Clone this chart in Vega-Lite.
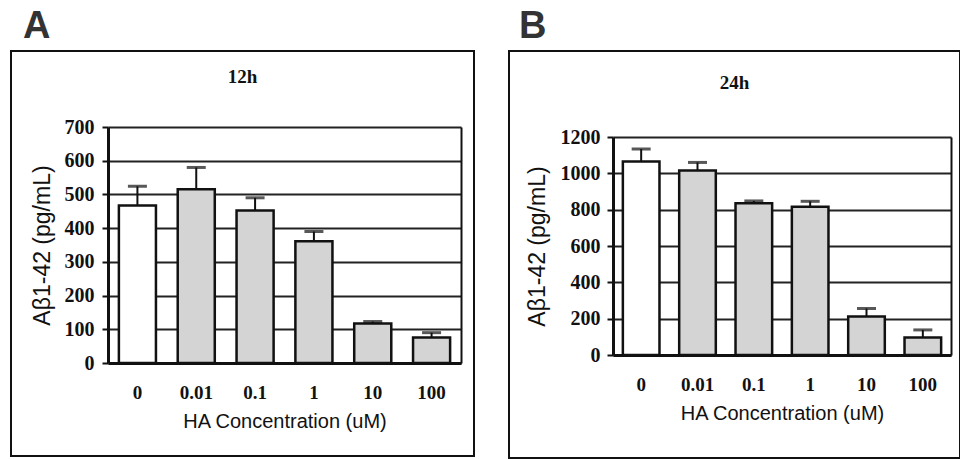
{
  "$schema": "https://vega.github.io/schema/vega-lite/v6.json",
  "padding": {"left": 10, "top": 8, "right": 0, "bottom": 0},
  "background": "white",
  "spacing": 33,
  "config": {
    "view": {"stroke": "#111", "strokeWidth": 2},
    "axis": {
      "domainColor": "#111",
      "tickColor": "#111",
      "gridColor": "#222",
      "labelColor": "#111",
      "titleColor": "#111",
      "labelFont": "Liberation Serif",
      "labelFontWeight": "bold",
      "labelFontSize": 19,
      "titleFont": "Liberation Sans",
      "titleFontWeight": "normal"
    }
  },
  "hconcat": [
    {
      "title": {"text": "A", "anchor": "start", "dx": 13, "offset": 4, "fontSize": 38, "font": "Liberation Sans", "fontWeight": "bold", "color": "#333"},
      "hconcat": [
        {
          "width": 463,
          "height": 405,
          "title": {"text": "12h", "anchor": "middle", "offset": -36, "font": "Liberation Serif", "fontWeight": "bold", "fontSize": 19, "color": "#111"},
          "data": {"values": [
            {"conc": "0", "mean": 467, "upper": 524},
            {"conc": "0.01", "mean": 515, "upper": 580},
            {"conc": "0.1", "mean": 452, "upper": 490},
            {"conc": "1", "mean": 361, "upper": 390},
            {"conc": "10", "mean": 117, "upper": 123},
            {"conc": "100", "mean": 76, "upper": 90}
          ]},
          "encoding": {
            "x": {
              "field": "conc", "type": "nominal",
              "sort": ["0", "0.01", "0.1", "1", "10", "100"],
              "scale": {"range": [97, 450], "paddingInner": 0.37, "paddingOuter": 0.185},
              "axis": {"orient": "bottom", "offset": -93, "labelAngle": 0, "ticks": false, "domainWidth": 3, "labelPadding": 20, "grid": false, "title": "HA Concentration (uM)", "titleFontSize": 20, "titlePadding": 9}
            }
          },
          "layer": [
            {
              "mark": {"type": "rule", "strokeWidth": 2, "color": "#111"},
              "encoding": {
                "y": {"field": "mean", "type": "quantitative", "scale": {"domain": [0, 700], "range": [312, 76], "nice": false, "zero": true}, "axis": null},
                "y2": {"field": "upper"}
              }
            },
            {
              "mark": {"type": "bar", "stroke": "#111", "strokeWidth": 2.5},
              "encoding": {
                "y": {"field": "mean", "type": "quantitative", "axis": {"orient": "left", "offset": -97, "values": [0, 100, 200, 300, 400, 500, 600, 700], "format": "d", "grid": true, "gridWidth": 2, "domainWidth": 3, "tickSize": 6, "tickWidth": 2, "labelPadding": 8, "labelFontSize": 20, "title": "Aβ1-42 (pg/mL)", "titleFontSize": 23, "titlePadding": 10}},
                "fill": {"condition": {"test": "datum.conc === '0'", "value": "white"}, "value": "#d4d4d4"}
              }
            },
            {
              "mark": {"type": "tick", "orient": "horizontal", "size": 19, "thickness": 3, "color": "#111"},
              "encoding": {
                "y": {"field": "upper", "type": "quantitative", "axis": {"orient": "right", "offset": -13, "labels": false, "ticks": false, "grid": false, "title": null, "domainWidth": 2}}
              }
            }
          ],
          "resolve": {"axis": {"y": "independent"}}
        }
      ]
    },
    {
      "title": {"text": "B", "anchor": "start", "dx": 11, "offset": 4, "fontSize": 38, "font": "Liberation Sans", "fontWeight": "bold", "color": "#333"},
      "hconcat": [
        {
          "width": 451,
          "height": 407,
          "title": {"text": "24h", "anchor": "middle", "offset": -42, "font": "Liberation Serif", "fontWeight": "bold", "fontSize": 19, "color": "#111"},
          "data": {"values": [
            {"conc": "0", "mean": 1065, "upper": 1134},
            {"conc": "0.01", "mean": 1015, "upper": 1060},
            {"conc": "0.1", "mean": 836, "upper": 848},
            {"conc": "1", "mean": 816, "upper": 846},
            {"conc": "10", "mean": 212, "upper": 256},
            {"conc": "100", "mean": 96, "upper": 138}
          ]},
          "encoding": {
            "x": {
              "field": "conc", "type": "nominal",
              "sort": ["0", "0.01", "0.1", "1", "10", "100"],
              "scale": {"range": [104, 442], "paddingInner": 0.35, "paddingOuter": 0.175},
              "axis": {"orient": "bottom", "offset": -103, "labelAngle": 0, "ticks": false, "domainWidth": 3, "labelPadding": 20, "grid": false, "title": "HA Concentration (uM)", "titleFontSize": 20, "titlePadding": 9}
            }
          },
          "layer": [
            {
              "mark": {"type": "rule", "strokeWidth": 2, "color": "#111"},
              "encoding": {
                "y": {"field": "mean", "type": "quantitative", "scale": {"domain": [0, 1200], "range": [304, 86], "nice": false, "zero": true}, "axis": null},
                "y2": {"field": "upper"}
              }
            },
            {
              "mark": {"type": "bar", "stroke": "#111", "strokeWidth": 2.5},
              "encoding": {
                "y": {"field": "mean", "type": "quantitative", "axis": {"orient": "left", "offset": -104, "values": [0, 200, 400, 600, 800, 1000, 1200], "format": "d", "grid": true, "gridWidth": 2, "domainWidth": 3, "tickSize": 6, "tickWidth": 2, "labelPadding": 7, "labelFontSize": 20, "title": "Aβ1-42 (pg/mL)", "titleFontSize": 23, "titlePadding": 11}},
                "fill": {"condition": {"test": "datum.conc === '0'", "value": "white"}, "value": "#d4d4d4"}
              }
            },
            {
              "mark": {"type": "tick", "orient": "horizontal", "size": 19, "thickness": 3, "color": "#111"},
              "encoding": {
                "y": {"field": "upper", "type": "quantitative", "axis": {"orient": "right", "offset": -9, "labels": false, "ticks": false, "grid": false, "title": null, "domainWidth": 2}}
              }
            }
          ],
          "resolve": {"axis": {"y": "independent"}}
        }
      ]
    }
  ]
}
